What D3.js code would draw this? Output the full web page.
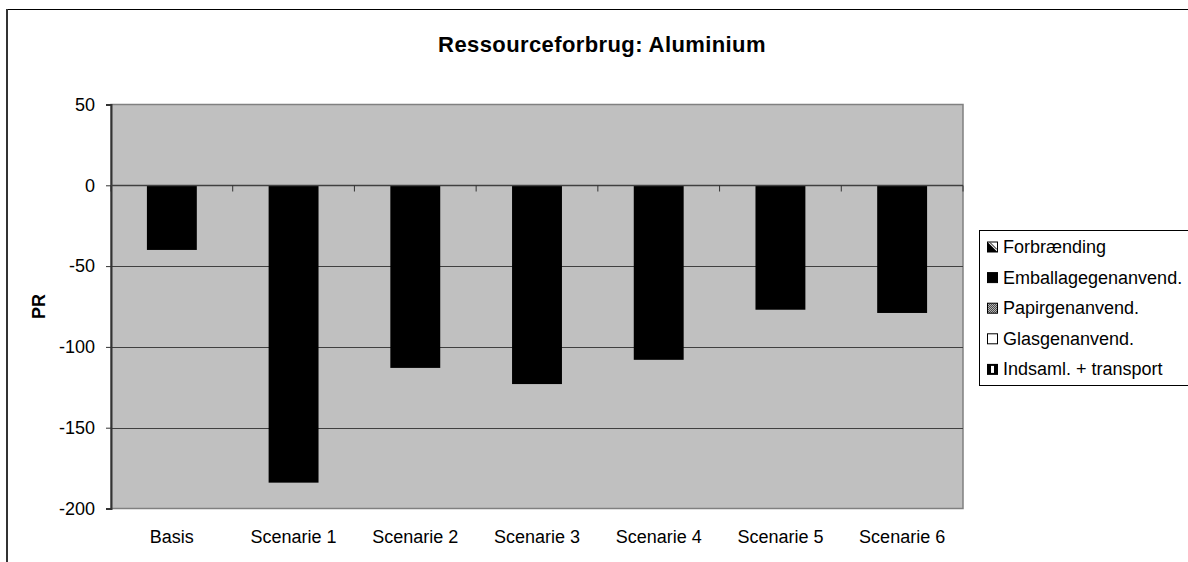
<!DOCTYPE html>
<html>
<head>
<meta charset="UTF-8">
<title>Ressourceforbrug: Aluminium</title>
<script src="https://d3js.org/d3.v7.min.js"></script>
<style>
  body { margin: 0; background: #fff; }
  text { font-family: "Liberation Sans", Arial, sans-serif; fill: #000; }
</style>
</head>
<body>
<svg id="chart"></svg>
<script>
// data
const categories = ["Basis", "Scenarie 1", "Scenarie 2", "Scenarie 3", "Scenarie 4", "Scenarie 5", "Scenarie 6"];
const seriesNames = ["Forbrænding", "Emballagegenanvend.", "Papirgenanvend.", "Glasgenanvend.", "Indsaml. + transport"];
const forbraending = [0, 0, 0, 0, 0, 0, 0];
const emballage = [-40, -184, -113, -123, -108, -77, -79];
const papir = [0, 0, 0, 0, 0, 0, 0];
const glas = [0, 0, 0, 0, 0, 0, 0];
const indsaml = [0, 0, 0, 0, 0, 0, 0];
const yTicks = [50, 0, -50, -100, -150, -200];

const width = 1188, height = 562;
const plot = {left: 111, right: 963, top: 104.5, bottom: 508.5};

const svg = d3.select("#chart").attr("width", width).attr("height", height);

const defs = svg.append("defs");
// checker pattern for Papirgenanvend.
const pat = defs.append("pattern").attr("id", "checker")
  .attr("width", 2).attr("height", 2).attr("patternUnits", "userSpaceOnUse");
pat.append("rect").attr("width", 2).attr("height", 2).attr("fill", "#fff");
pat.append("rect").attr("width", 1).attr("height", 1).attr("fill", "#000");
pat.append("rect").attr("x", 1).attr("y", 1).attr("width", 1).attr("height", 1).attr("fill", "#000");

const fills = ["#333", "#000", "url(#checker)", "#fff", "#000"];

// outer chart border (only top and left visible)
svg.append("line").attr("x1", 6).attr("x2", width).attr("y1", 9.5).attr("y2", 9.5)
  .attr("stroke", "#000").attr("stroke-width", 1);
svg.append("line").attr("x1", 7).attr("x2", 7).attr("y1", 9).attr("y2", height)
  .attr("stroke", "#333").attr("stroke-width", 2);

// title
svg.append("text")
  .attr("x", 602).attr("y", 52)
  .attr("text-anchor", "middle")
  .style("font-size", "22px").style("font-weight", "bold")
  .style("letter-spacing", "0.4px")
  .text("Ressourceforbrug: Aluminium");

const y = d3.scaleLinear().domain([-200, 50]).range([plot.bottom, plot.top]);
const x = d3.scaleBand().domain(categories).range([plot.left, plot.right])
  .paddingInner(0.59).paddingOuter(0.295);

// plot area
svg.append("rect")
  .attr("x", plot.left).attr("y", plot.top)
  .attr("width", plot.right - plot.left).attr("height", plot.bottom - plot.top)
  .attr("fill", "#c0c0c0").attr("stroke", "#808080").attr("stroke-width", 1.5);

// gridlines
svg.append("g").selectAll("line")
  .data(yTicks.filter(d => d > -200 && d < 50))
  .join("line")
  .attr("x1", plot.left).attr("x2", plot.right)
  .attr("y1", d => Math.round(y(d)) + 0.5).attr("y2", d => Math.round(y(d)) + 0.5)
  .attr("stroke", "#404040").attr("stroke-width", 1);

// stacked bars
const table = categories.map((c, i) => ({
  cat: c,
  "Forbrænding": forbraending[i],
  "Emballagegenanvend.": emballage[i],
  "Papirgenanvend.": papir[i],
  "Glasgenanvend.": glas[i],
  "Indsaml. + transport": indsaml[i]
}));
const stacked = d3.stack().keys(seriesNames).offset(d3.stackOffsetDiverging)(table);

svg.append("g").selectAll("g")
  .data(stacked)
  .join("g")
  .attr("fill", (d, i) => fills[i])
  .selectAll("rect")
  .data(d => d)
  .join("rect")
  .attr("x", d => x(d.data.cat))
  .attr("width", x.bandwidth())
  .attr("y", d => y(Math.max(d[0], d[1])))
  .attr("height", d => Math.abs(y(d[0]) - y(d[1])));

// y axis
const yAxis = svg.append("g")
  .attr("transform", `translate(${plot.left},0)`)
  .call(d3.axisLeft(y).tickValues(yTicks).tickSize(5).tickPadding(11).tickFormat(d => String(d)));
yAxis.select(".domain").attr("stroke", "#333").attr("stroke-width", 2);
yAxis.selectAll(".tick line").attr("stroke", "#333");
yAxis.selectAll("text").style("font-size", "18px").style("font-family", "Liberation Sans, Arial, sans-serif");

// category axis along zero line
const zeroY = Math.round(y(0)) + 0.5;
svg.append("line").attr("x1", plot.left).attr("x2", plot.right)
  .attr("y1", zeroY).attr("y2", zeroY).attr("stroke", "#404040").attr("stroke-width", 1.5);
const boundaries = d3.range(categories.length + 1).map(i => plot.left + i * x.step());
svg.append("g").selectAll("line")
  .data(boundaries)
  .join("line")
  .attr("x1", d => d).attr("x2", d => d)
  .attr("y1", zeroY).attr("y2", zeroY + 6)
  .attr("stroke", "#333").attr("stroke-width", 1);

// category labels under plot
svg.append("g").selectAll("text")
  .data(categories)
  .join("text")
  .attr("x", d => x(d) + x.bandwidth() / 2)
  .attr("y", 543)
  .attr("text-anchor", "middle")
  .style("font-size", "18px")
  .text(d => d);

// y axis title
svg.append("text")
  .attr("transform", `translate(45, ${(plot.top + plot.bottom) / 2}) rotate(-90)`)
  .attr("text-anchor", "middle")
  .style("font-size", "18px").style("font-weight", "bold")
  .text("PR");

// legend
const legend = svg.append("g").attr("transform", "translate(979,230)");
legend.append("rect").attr("x", 0.5).attr("y", 0.5).attr("width", 220).attr("height", 155)
  .attr("fill", "#fff").attr("stroke", "#000").attr("stroke-width", 1);

const item = legend.selectAll("g.item")
  .data(seriesNames)
  .join("g")
  .attr("class", "item")
  .attr("transform", (d, i) => `translate(8, ${16.5 + i * 30.6})`);

const s = 10;
item.each(function(d, i) {
  const g = d3.select(this);
  if (i === 0) {
    g.append("rect").attr("x", 0.5).attr("y", -s / 2 + 0.5).attr("width", s).attr("height", s)
      .attr("fill", "#fff").attr("stroke", "#000");
    g.append("path").attr("d", `M0.5,${-s / 2 + 0.5}L${s + 0.5},${s / 2 + 0.5}L0.5,${s / 2 + 0.5}Z`).attr("fill", "#000");
    g.append("line").attr("x1", 3).attr("y1", -s / 2 + 1).attr("x2", s).attr("y2", s / 2 - 2)
      .attr("stroke", "#000");
  } else if (i === 4) {
    g.append("rect").attr("x", 0).attr("y", -s / 2).attr("width", s + 1).attr("height", s + 1).attr("fill", "#000");
    g.append("rect").attr("x", 4).attr("y", -s / 2 + 2).attr("width", 3).attr("height", s - 3).attr("fill", "#fff");
  } else {
    g.append("rect").attr("x", 0.5).attr("y", -s / 2 + 0.5).attr("width", s).attr("height", s)
      .attr("fill", fills[i]).attr("stroke", "#000");
  }
  g.append("text").attr("x", 16).attr("y", 6.5)
    .style("font-size", "18px").text(d);
});
</script>
</body>
</html>
